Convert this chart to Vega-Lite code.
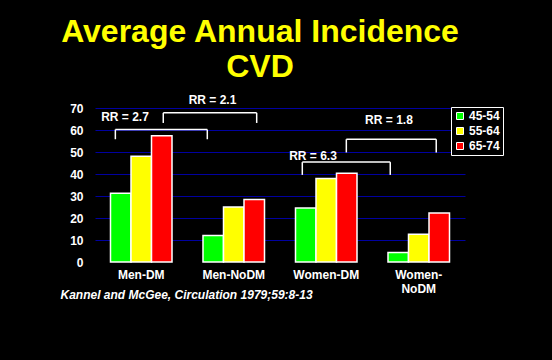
{
  "$schema": "https://vega.github.io/schema/vega-lite/v6.json",
  "width": 370,
  "height": 154,
  "autosize": "none",
  "padding": {"left": 95, "top": 108, "right": 87, "bottom": 98},
  "background": "black",
  "config": {
    "view": {"stroke": null},
    "font": "Liberation Sans",
    "axisY": {
      "title": null,
      "domain": false,
      "ticks": false,
      "labelOverlap": false,
      "labelColor": "white",
      "labelFontSize": 12,
      "labelFontWeight": "bold",
      "labelPadding": 12,
      "grid": true,
      "gridWidth": 1,
      "gridOpacity": 1
    }
  },
  "title": {
    "text": ["Average Annual Incidence", "CVD"],
    "color": "#FFFF00",
    "fontSize": 32,
    "fontWeight": "bold",
    "font": "Liberation Sans",
    "anchor": "middle",
    "frame": "group",
    "dx": -20,
    "lineHeight": 35,
    "offset": 10
  },
  "datasets": {
    "bars": [
      {"group": "Men-DM", "age": "45-54", "value": 31.3},
      {"group": "Men-DM", "age": "55-64", "value": 48.1},
      {"group": "Men-DM", "age": "65-74", "value": 57.4},
      {"group": "Men-NoDM", "age": "45-54", "value": 12.1},
      {"group": "Men-NoDM", "age": "55-64", "value": 25.0},
      {"group": "Men-NoDM", "age": "65-74", "value": 28.4},
      {"group": "Women-DM", "age": "45-54", "value": 24.6},
      {"group": "Women-DM", "age": "55-64", "value": 38.0},
      {"group": "Women-DM", "age": "65-74", "value": 40.3},
      {"group": "Women-NoDM", "age": "45-54", "value": 4.3},
      {"group": "Women-NoDM", "age": "55-64", "value": 12.6},
      {"group": "Women-NoDM", "age": "65-74", "value": 22.3}
    ],
    "brackets": [
      {"rr": "RR = 2.7", "left": 0.22, "right": 1.214, "top": 60.2, "foot": 55.8, "tx": 0.324, "ty": 66.0},
      {"rr": "RR = 2.1", "left": 0.738, "right": 1.748, "top": 67.8, "foot": 63.2, "tx": 1.27, "ty": 73.7},
      {"rr": "RR = 6.3", "left": 2.241, "right": 3.192, "top": 45.4, "foot": 39.6, "tx": 2.357, "ty": 48.4},
      {"rr": "RR = 1.8", "left": 2.717, "right": 3.689, "top": 55.8, "foot": 49.8, "tx": 3.178, "ty": 64.6}
    ]
  },
  "layer": [
    {
      "data": {"name": "bars"},
      "mark": {"type": "bar", "stroke": "white", "strokeWidth": 1.5},
      "encoding": {
        "x": {
          "field": "group",
          "type": "nominal",
          "sort": ["Men-DM", "Men-NoDM", "Women-DM", "Women-NoDM"],
          "scale": {"paddingInner": 0.335, "paddingOuter": 0.1675},
          "axis": {
            "labelAngle": 0,
            "labelColor": "white",
            "labelFontSize": 12,
            "labelFontWeight": "bold",
            "labelPadding": 7,
            "labelLineHeight": 14,
            "labelExpr": "datum.label == 'Women-NoDM' ? ['Women-', 'NoDM'] : datum.label",
            "ticks": false,
            "domain": false,
            "title": "Kannel and McGee, Circulation 1979;59:8-13",
            "titleColor": "white",
            "titleFontSize": 12,
            "titleFontWeight": "bold",
            "titleFontStyle": "italic",
            "titleAlign": "left",
            "titleAnchor": "start",
            "titleBaseline": "middle",
            "titleX": -35,
            "titleY": 32
          }
        },
        "xOffset": {
          "field": "age",
          "type": "nominal",
          "scale": {"paddingInner": 0, "paddingOuter": 0}
        },
        "y": {
          "field": "value",
          "type": "quantitative",
          "scale": {"domain": [0, 70], "nice": false},
          "axis": {
            "values": [0, 10, 20, 30, 40, 50, 60, 70],
            "gridColor": {"condition": {"test": "datum.value === 0", "value": "black"}, "value": "#0000A0"}
          }
        },
        "color": {
          "field": "age",
          "type": "nominal",
          "scale": {"domain": ["45-54", "55-64", "65-74"], "range": ["#00FF00", "#FFFF00", "#FF0000"]},
          "legend": {
            "orient": "none",
            "legendX": 356,
            "legendY": -1,
            "title": null,
            "symbolType": "square",
            "symbolSize": 49,
            "symbolStrokeColor": "white",
            "symbolStrokeWidth": 1,
            "symbolOpacity": 1,
            "labelColor": "white",
            "labelFontSize": 12,
            "labelFontWeight": "bold",
            "labelOffset": 3,
            "rowPadding": 3,
            "padding": 3,
            "strokeColor": "white",
            "fillColor": "black"
          }
        }
      }
    },
    {
      "data": {"name": "brackets"},
      "layer": [
        {
          "mark": {"type": "rule", "color": "white", "strokeWidth": 1.5},
          "encoding": {
            "x": {"field": "left", "type": "quantitative", "scale": {"domain": [0, 4], "nice": false, "zero": false}, "axis": null},
            "x2": {"field": "right"},
            "y": {"field": "top", "type": "quantitative", "axis": {"values": [0, 10, 20, 30, 40, 50, 60, 70], "gridColor": {"condition": {"test": "datum.value === 0", "value": "black"}, "value": "#0000A0"}}}
          }
        },
        {
          "mark": {"type": "rule", "color": "white", "strokeWidth": 1.5},
          "encoding": {
            "x": {"field": "left", "type": "quantitative"},
            "y": {"field": "top", "type": "quantitative", "axis": {"values": [0, 10, 20, 30, 40, 50, 60, 70], "gridColor": {"condition": {"test": "datum.value === 0", "value": "black"}, "value": "#0000A0"}}},
            "y2": {"field": "foot"}
          }
        },
        {
          "mark": {"type": "rule", "color": "white", "strokeWidth": 1.5},
          "encoding": {
            "x": {"field": "right", "type": "quantitative"},
            "y": {"field": "top", "type": "quantitative", "axis": {"values": [0, 10, 20, 30, 40, 50, 60, 70], "gridColor": {"condition": {"test": "datum.value === 0", "value": "black"}, "value": "#0000A0"}}},
            "y2": {"field": "foot"}
          }
        },
        {
          "mark": {"type": "text", "color": "white", "fontSize": 12, "fontWeight": "bold", "align": "center", "baseline": "middle"},
          "encoding": {
            "x": {"field": "tx", "type": "quantitative"},
            "y": {"field": "ty", "type": "quantitative", "axis": {"values": [0, 10, 20, 30, 40, 50, 60, 70], "gridColor": {"condition": {"test": "datum.value === 0", "value": "black"}, "value": "#0000A0"}}},
            "text": {"field": "rr"}
          }
        }
      ]
    }
  ],
  "resolve": {"scale": {"x": "independent"}}
}
